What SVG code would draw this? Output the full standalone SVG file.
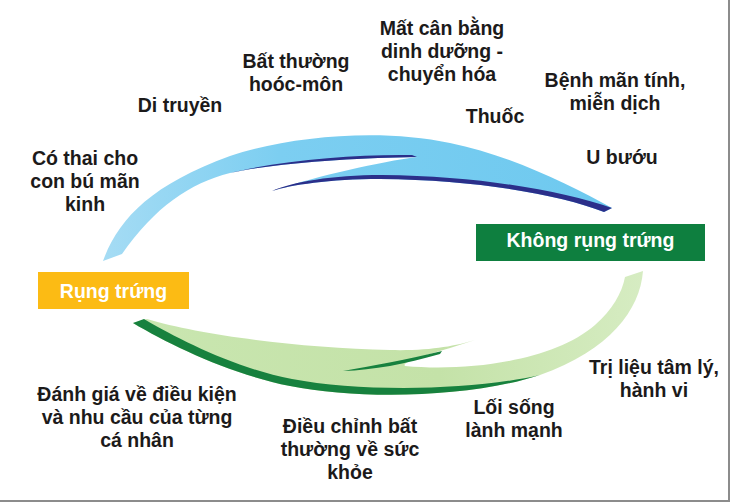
<svg xmlns="http://www.w3.org/2000/svg" width="730" height="502" viewBox="0 0 730 502">
  <style>
    .lbl { font-family: "Liberation Sans", Arial, sans-serif; font-weight: bold; font-size: 19.5px; fill: #1c1a1a; text-anchor: middle; }
    .box-t { font-family: "Liberation Sans", Arial, sans-serif; font-weight: bold; font-size: 19.5px; fill: #ffffff; text-anchor: middle; }
  </style>
  <defs>
    <linearGradient id="blueFill" x1="100" y1="0" x2="612" y2="0" gradientUnits="userSpaceOnUse">
      <stop offset="0" stop-color="#a6dcf4"/>
      <stop offset="0.35" stop-color="#7ccef1"/>
      <stop offset="1" stop-color="#6ec9ef"/>
    </linearGradient>
    <linearGradient id="greenFill" x1="643" y1="0" x2="133" y2="0" gradientUnits="userSpaceOnUse">
      <stop offset="0" stop-color="#d6ecc2"/>
      <stop offset="0.4" stop-color="#c4e2a8"/>
      <stop offset="1" stop-color="#c9e6b0"/>
    </linearGradient>
  </defs>
  <rect x="0" y="0" width="730" height="502" fill="#ffffff"/>

  <g id="connectors">
    <g id="arrow-blue">
      <path fill="url(#blueFill)" d="M103,261 C118,220 150,185 230,156 C290,136 380,128 450,143 C510,155 570,185 612,208 L604,212 C560,195 480,180 380,179 C330,179 290,185 272,191 C320,175 380,162 417,157 C360,158 280,162 230,173 C190,183 155,207 122,254 Z"/>
      <path fill="#2b2f8a" d="M612,208 L604,212 C560,195 480,180 380,179 C330,179 290,185 272,191 C292,182 332,175 382,175 C482,176 562,191 612,208 Z"/>
      <path fill="#2b2f8a" d="M417,157 C360,158 280,162 230,173 C282,160 358,154 412,155 Z"/>
    </g>
    <g id="arrow-green">
      <path fill="url(#greenFill)" d="M643,271 C640,310 610,350 540,375 C470,398 360,400 290,386 C230,374 170,345 133,323 L147,319 C200,335 300,348 390,350 C430,351 455,346 475,340 C440,352 400,361 405,366 C470,372 555,360 595,325 C612,310 622,293 625,277 Z"/>
      <path fill="#17813e" d="M133,323 C170,345 230,374 290,386 C360,400 470,398 540,375 C470,391 360,392 292,379 C235,368 180,340 144,319 Z"/>
      <path fill="#17813e" d="M343,371 C372,366 405,360 442,351 L440,354 C405,364 374,370 343,371 Z"/>
    </g>
  </g>

  <g id="node-rung-trung">
    <rect x="38" y="272" width="151" height="37" fill="#fcbb14"/>
    <text class="box-t" x="113.5" y="298">Rụng trứng</text>
  </g>
  <g id="node-khong-rung-trung">
    <rect x="476" y="224" width="229" height="37" fill="#0e7f3f"/>
    <text class="box-t" x="590.5" y="247">Không rụng trứng</text>
  </g>

  <g id="labels-causes">
    <text class="lbl" x="85" y="165">Có thai cho</text>
    <text class="lbl" x="85" y="188">con bú mãn</text>
    <text class="lbl" x="85" y="211">kinh</text>
    <text class="lbl" x="180" y="112">Di truyền</text>
    <text class="lbl" x="296" y="68">Bất thường</text>
    <text class="lbl" x="296" y="91">hoóc-môn</text>
    <text class="lbl" x="442" y="35">Mất cân bằng</text>
    <text class="lbl" x="442" y="58">dinh dưỡng -</text>
    <text class="lbl" x="442" y="81">chuyển hóa</text>
    <text class="lbl" x="495" y="123">Thuốc</text>
    <text class="lbl" x="615" y="87">Bệnh mãn tính,</text>
    <text class="lbl" x="615" y="110">miễn dịch</text>
    <text class="lbl" x="622" y="164">U bướu</text>
  </g>
  <g id="labels-treatments">
    <text class="lbl" x="137" y="401">Đánh giá về điều kiện</text>
    <text class="lbl" x="137" y="424">và nhu cầu của từng</text>
    <text class="lbl" x="137" y="447">cá nhân</text>
    <text class="lbl" x="350" y="433">Điều chỉnh bất</text>
    <text class="lbl" x="350" y="456">thường về sức</text>
    <text class="lbl" x="350" y="479">khỏe</text>
    <text class="lbl" x="514" y="414">Lối sống</text>
    <text class="lbl" x="514" y="437">lành mạnh</text>
    <text class="lbl" x="654" y="374">Trị liệu tâm lý,</text>
    <text class="lbl" x="654" y="397">hành vi</text>
  </g>

  <rect x="0" y="500" width="730" height="2" fill="#8c8c8c"/>
  <rect x="728" y="0" width="2" height="502" fill="#8c8c8c"/>
</svg>
